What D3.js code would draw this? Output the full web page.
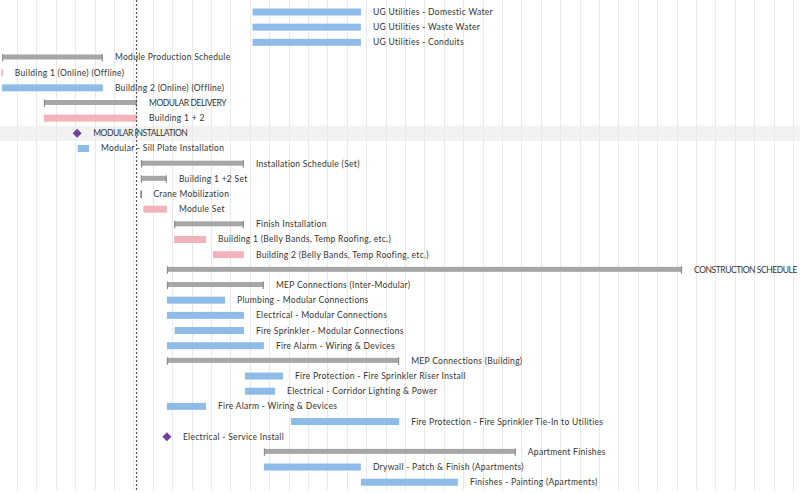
<!DOCTYPE html>
<html>
<head>
<meta charset="utf-8">
<script src="https://cdn.jsdelivr.net/npm/d3@7/dist/d3.min.js"></script>
<style>
  html, body { margin: 0; padding: 0; background: #ffffff; }
  svg { display: block; }
</style>
</head>
<body>
<svg id="chart" width="800" height="493"></svg>
<script>
// ---- data (project days; day 0 = first week boundary) ----
const taskNames = [
  "UG Utilities - Domestic Water",
  "UG Utilities - Waste Water",
  "UG Utilities - Conduits",
  "Module Production Schedule",
  "Building 1 (Online) (Offline)",
  "Building 2 (Online) (Offline)",
  "MODULAR DELIVERY",
  "Building 1 + 2",
  "MODULAR INSTALLATION",
  "Modular - Sill Plate Installation",
  "Installation Schedule (Set)",
  "Building 1 +2 Set",
  "Crane Mobilization",
  "Module Set",
  "Finish Installation",
  "Building 1 (Belly Bands, Temp Roofing, etc.)",
  "Building 2 (Belly Bands, Temp Roofing, etc.)",
  "CONSTRUCTION SCHEDULE",
  "MEP Connections (Inter-Modular)",
  "Plumbing - Modular Connections",
  "Electrical - Modular Connections",
  "Fire Sprinkler - Modular Connections",
  "Fire Alarm - Wiring & Devices",
  "MEP Connections (Building)",
  "Fire Protection - Fire Sprinkler Riser Install",
  "Electrical - Corridor Lighting & Power",
  "Fire Alarm - Wiring & Devices",
  "Fire Protection - Fire Sprinkler Tie-In to Utilities",
  "Electrical - Service Install",
  "Apartment Finishes",
  "Drywall - Patch & Finish (Apartments)",
  "Finishes - Painting (Apartments)"
];
const taskStarts = [85, 85, 85, -5.4, -5.7, -5.4, 9.7, 9.7, 21.7, 21.9, 44.7, 44.7, 44.7, 45.6, 56.7, 56.7, 70.7, 54.1, 54.1, 54.1, 54.1, 56.9, 54.1, 54.1, 82.3, 82.3, 54.1, 98.9, 54.1, 89.1, 89.1, 124.1];
const taskEnds   = [124.1, 124.1, 124.1, 31, -5.1, 31, 43.3, 43.3, 21.7, 26, 81.9, 54.1, 44.9, 54.1, 81.9, 68.2, 81.9, 240, 89.1, 75.1, 81.9, 81.9, 89.1, 137.9, 96, 93.1, 68.2, 137.9, 54.1, 180, 124.1, 159.1];
const taskTypes  = ["task","task","task","group","pink","task","group","pink","milestone","task","group","group","group","pink","group","pink","pink","group","group","task","task","task","task","group","task","task","task","task","milestone","group","task","task"];
const highlightedRows = [8];
const todayDay = 42.9;
const weekLength = 7;

// ---- layout ----
const W = 800, H = 493;
const svg = d3.select("#chart");

const x = d3.scaleLinear().domain([-6.134, 282.55]).range([0, W]);
const y = d3.scaleBand().domain(d3.range(taskNames.length)).range([4.4, 489.8]).padding(0);

const colors = { task: "#8fbbe9", pink: "#f3b3bb", group: "#a7a7a7", groupCap: "#8e8e8e", milestone: "#6e3f9c" };

// highlight band
svg.append("g").selectAll("rect").data(highlightedRows).join("rect")
  .attr("x", 0).attr("width", W)
  .attr("y", d => y(d)).attr("height", y.bandwidth())
  .attr("fill", "#f2f2f2");

// week grid lines
const gridDays = d3.range(0, 283, weekLength);
svg.append("g").selectAll("line").data(gridDays).join("line")
  .attr("x1", d => Math.round(x(d)) + 0.5).attr("x2", d => Math.round(x(d)) + 0.5)
  .attr("y1", 0).attr("y2", 490)
  .attr("stroke", "#e9e9e9").attr("stroke-width", 1);

const tasks = taskNames.map((n, i) => ({ i, name: n, start: taskStarts[i], end: taskEnds[i], type: taskTypes[i] }));

const g = svg.append("g");

// normal bars
g.selectAll("rect.bar").data(tasks.filter(d => d.type === "task" || d.type === "pink")).join("rect")
  .attr("class", "bar")
  .attr("x", d => x(d.start))
  .attr("width", d => Math.max(1.5, x(d.end) - x(d.start)))
  .attr("y", d => y(d.i) + y.bandwidth() / 2 - 3.5)
  .attr("height", 7)
  .attr("fill", d => colors[d.type]);

// group (summary) bars
const groups = tasks.filter(d => d.type === "group");
g.selectAll("rect.grp").data(groups).join("rect")
  .attr("class", "grp")
  .attr("x", d => x(d.start))
  .attr("width", d => Math.max(0, x(d.end) - x(d.start)))
  .attr("y", d => y(d.i) + y.bandwidth() / 2 - 3)
  .attr("height", 5)
  .attr("fill", colors.group);
g.selectAll("rect.capL").data(groups).join("rect")
  .attr("x", d => x(d.start)).attr("width", 1.2)
  .attr("y", d => y(d.i) + y.bandwidth() / 2 - 3.5).attr("height", 7.5)
  .attr("fill", colors.groupCap);
g.selectAll("rect.capR").data(groups).join("rect")
  .attr("x", d => x(d.end) - 1.2).attr("width", 1.2)
  .attr("y", d => y(d.i) + y.bandwidth() / 2 - 3.5).attr("height", 7.5)
  .attr("fill", colors.groupCap);

// milestones
g.selectAll("path.ms").data(tasks.filter(d => d.type === "milestone")).join("path")
  .attr("d", d3.symbol().type(d3.symbolSquare).size(40))
  .attr("transform", d => `translate(${x(d.start)},${y(d.i) + y.bandwidth() / 2}) rotate(45)`)
  .attr("fill", colors.milestone);

// labels
const isCaps = s => s === s.toUpperCase();
g.selectAll("text").data(tasks).join("text")
  .attr("x", d => x(d.end) + (d.type === "milestone" ? 16 : 12))
  .attr("y", d => y(d.i) + y.bandwidth() / 2)
  .attr("dy", "0.35em")
  .attr("font-family", "Lato, 'Open Sans', sans-serif")
  .attr("font-size", 8.5)
  .attr("letter-spacing", d => isCaps(d.name) ? -0.45 : 0.3)
  .attr("fill", "#333")
  .text(d => d.name);

// today marker
svg.append("line")
  .attr("x1", Math.round(x(todayDay)) + 0.5).attr("x2", Math.round(x(todayDay)) + 0.5)
  .attr("y1", 0).attr("y2", 490)
  .attr("stroke", "#555").attr("stroke-width", 1.2)
  .attr("stroke-dasharray", "2,2");
</script>
</body>
</html>
